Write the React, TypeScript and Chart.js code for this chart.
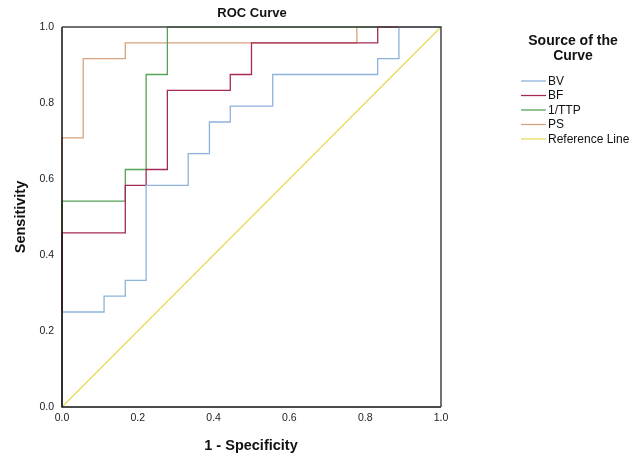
import React, { useEffect, useRef } from "react";
import { Chart, registerables } from "chart.js";

Chart.register(...registerables);

const seriesNames = ["BV", "BF", "1/TTP", "PS", "Reference Line"];
const seriesColors = ["#8db3da", "#a52a55", "#55a355", "#d9a27f", "#e6dc5a"];

const fprBV = [0, 0, 0.111, 0.167, 0.222, 0.333, 0.389, 0.444, 0.556, 0.833, 0.889, 1];
const tprBV = [0, 0.25, 0.292, 0.333, 0.583, 0.667, 0.75, 0.792, 0.875, 0.917, 1, 1];

const fprBF = [0, 0, 0.167, 0.222, 0.278, 0.444, 0.5, 0.833, 1];
const tprBF = [0, 0.458, 0.583, 0.625, 0.833, 0.875, 0.958, 1, 1];

const fprTTP = [0, 0, 0.167, 0.222, 0.278, 1];
const tprTTP = [0, 0.542, 0.625, 0.875, 1, 1];

const fprPS = [0, 0, 0.056, 0.167, 0.778, 1];
const tprPS = [0, 0.708, 0.917, 0.958, 1, 1];

const fprRef = [0, 1];
const tprRef = [0, 1];

const axisTicks = [0, 0.2, 0.4, 0.6, 0.8, 1.0];

const FONT = "'Liberation Sans', Arial, sans-serif";

function pts(xs: number[], ys: number[]) {
  return xs.map((x, i) => ({ x, y: ys[i] }));
}

export default function App() {
  const ref = useRef<HTMLCanvasElement | null>(null);

  useEffect(() => {
    document.body.style.margin = "0";
    const canvas = ref.current!;
    const xsAll = [fprBV, fprBF, fprTTP, fprPS, fprRef];
    const ysAll = [tprBV, tprBF, tprTTP, tprPS, tprRef];

    const decor = {
      id: "decor",
      afterDatasetsDraw(chart: any) {
        const { ctx, chartArea } = chart;
        ctx.save();
        ctx.lineWidth = 1.5;
        ctx.strokeStyle = "#111";
        ctx.beginPath();
        ctx.moveTo(chartArea.left, chartArea.top);
        ctx.lineTo(chartArea.left, chartArea.bottom);
        ctx.lineTo(chartArea.right, chartArea.bottom);
        ctx.stroke();
        ctx.strokeStyle = "#444";
        ctx.beginPath();
        ctx.moveTo(chartArea.left, chartArea.top);
        ctx.lineTo(chartArea.right, chartArea.top);
        ctx.lineTo(chartArea.right, chartArea.bottom);
        ctx.stroke();
        ctx.restore();
      },
      afterDraw(chart: any) {
        const { ctx } = chart;
        ctx.save();
        ctx.fillStyle = "#111";
        ctx.textAlign = "center";
        ctx.textBaseline = "middle";
        ctx.font = `bold 13px ${FONT}`;
        ctx.fillText("ROC Curve", 252, 13);
        ctx.font = `bold 14.5px ${FONT}`;
        ctx.fillText("1 - Specificity", 251, 446);
        ctx.save();
        ctx.translate(21, 217);
        ctx.rotate(-Math.PI / 2);
        ctx.fillText("Sensitivity", 0, 0);
        ctx.restore();
        // legend
        ctx.font = `bold 14px ${FONT}`;
        ctx.fillText("Source of the", 573, 41);
        ctx.fillText("Curve", 573, 56);
        ctx.font = `12px ${FONT}`;
        ctx.textAlign = "left";
        const ys = [81, 95.5, 110, 124.5, 139];
        seriesNames.forEach((n, i) => {
          ctx.strokeStyle = seriesColors[i];
          ctx.lineWidth = 1.3;
          ctx.beginPath();
          ctx.moveTo(521, ys[i]);
          ctx.lineTo(546, ys[i]);
          ctx.stroke();
          ctx.fillStyle = "#111";
          ctx.fillText(n, 548, ys[i] + 0.5);
        });
        ctx.restore();
      },
    };

    const chart = new Chart(canvas, {
      type: "line",
      data: {
        datasets: seriesNames.map((name, i) => ({
          label: name,
          data: pts(xsAll[i], ysAll[i]),
          borderColor: seriesColors[i],
          borderWidth: 1.3,
          pointRadius: 0,
          fill: false,
          stepped: i < 4 ? "before" : false,
          tension: 0,
          clip: 4,
        })) as any,
      },
      options: {
        responsive: false,
        animation: false,
        layout: { padding: { left: 0, right: 197, top: 27, bottom: 0 } },
        plugins: { legend: { display: false }, tooltip: { enabled: false }, title: { display: false } },
        scales: {
          x: {
            type: "linear",
            min: 0,
            max: 1,
            grid: { display: false, drawTicks: false },
            border: { display: false },
            afterBuildTicks(scale: any) {
              scale.ticks = axisTicks.map((v) => ({ value: v }));
            },
            afterFit(scale: any) {
              scale.height = 50;
            },
            ticks: {
              padding: 5,
              color: "#222",
              font: { family: FONT, size: 10.5 },
              maxRotation: 0,
              callback: (v: any) => Number(v).toFixed(1),
            },
          },
          y: {
            type: "linear",
            min: 0,
            max: 1,
            grid: { display: false, drawTicks: false },
            border: { display: false },
            afterBuildTicks(scale: any) {
              scale.ticks = axisTicks.map((v) => ({ value: v }));
            },
            afterFit(scale: any) {
              scale.width = 62;
            },
            ticks: {
              padding: 8,
              color: "#222",
              font: { family: FONT, size: 10.5 },
              callback: (v: any) => Number(v).toFixed(1),
            },
          },
        },
      },
      plugins: [decor],
    });
    return () => chart.destroy();
  }, []);

  return (
    <div style={{ width: 638, height: 457, background: "#fff" }}>
      <canvas ref={ref} width={638} height={457} />
    </div>
  );
}
